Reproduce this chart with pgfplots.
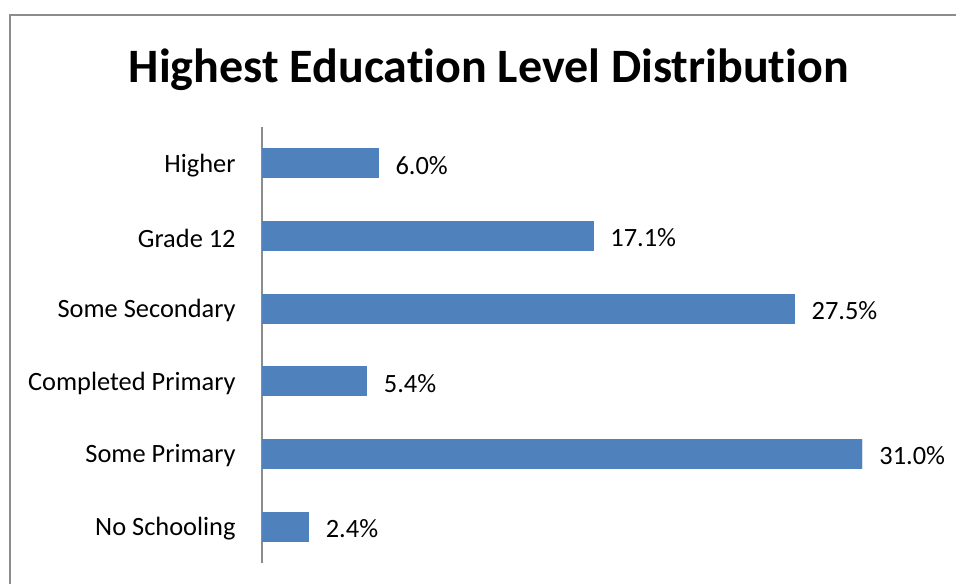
\documentclass[border=0pt]{standalone}
\usepackage{pgfplots}
\pgfplotsset{compat=1.18}
\usepackage{fontspec}
\setmainfont{Carlito}[Ligatures=NoCommon]
\definecolor{barblue}{HTML}{4F81BD}
\definecolor{framegray}{HTML}{8C8C8C}
\begin{document}
\begin{tikzpicture}
    % visible area of the reference, 1px = 0.5pt
    \clip (0,0) rectangle (478pt,-291.5pt);
    \draw[framegray, line width=0.6pt] (5pt,-7.5pt) rectangle (520pt,-340pt);
    \begin{axis}[
        at={(131pt,-281.5pt)}, anchor=south west,
        scale only axis, width=300pt, height=218pt,
        xbar, bar width=14.5pt,
        xmin=0, xmax=31, ymin=-0.5, ymax=5.5,
        axis x line=none, axis y line*=left,
        y axis line style={framegray, line width=0.6pt},
        xtick=\empty, ytick={0,...,5}, major tick length=0pt,
        yticklabels={No Schooling, Some Primary, Completed Primary,
            Some Secondary, Grade 12, Higher},
        yticklabel style={anchor=east, inner sep=0pt, xshift=-13pt,
            yshift=-1pt, font=\fontsize{13.2}{16}\selectfont},
        /pgf/number format/assume math mode=true,
        nodes near coords={\pgfmathprintnumber[fixed, fixed zerofill,
            precision=1]{\pgfplotspointmeta}\%},
        nodes near coords style={anchor=west, inner sep=0pt, xshift=8.5pt,
            yshift=-1pt, font=\fontsize{13.2}{16}\selectfont, black},
        title={Highest Education Level Distribution},
        title style={at={(0.378,1)}, anchor=base, yshift=16.5pt,
            inner sep=0pt, font=\fontsize{24}{29}\selectfont\bfseries},
    ]
        \addplot[fill=barblue, draw=barblue] coordinates {
            (2.4,0) (31.0,1) (5.4,2) (27.5,3) (17.1,4) (6.0,5)};
    \end{axis}
\end{tikzpicture}
\end{document}
